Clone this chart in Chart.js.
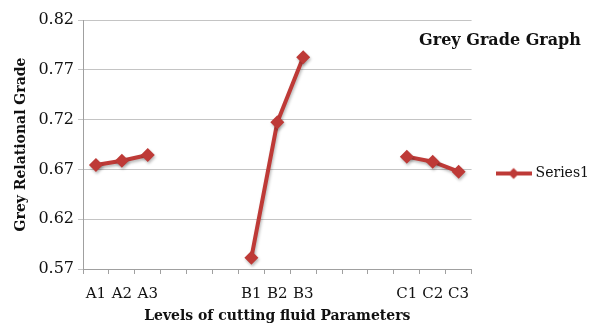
<!DOCTYPE html>
<html><head><meta charset="utf-8">
<script src="https://cdn.jsdelivr.net/npm/chart.js@4.4.0/dist/chart.umd.min.js"></script>
<style>html,body{margin:0;padding:0;background:#fff;}</style>
</head><body>
<canvas id="c" width="600" height="327"></canvas>
<script>
const categories = ['A1','A2','A3','','','','B1','B2','B3','','','','C1','C2','C3'];
const series1 = [0.6744,0.6787,0.6845,null,null,null,0.5814,0.7173,0.7825,null,null,null,0.6828,0.6777,0.6677];
const yTicks = [0.57,0.62,0.67,0.72,0.77,0.82];
const seriesName = 'Series1';
const chartTitle = 'Grey Grade Graph';
const xTitle = 'Levels of cutting fluid Parameters';
const yTitle = 'Grey Relational Grade';

const RED = '#BE3A37';
const SERIF = '"DejaVu Serif", "Liberation Serif", serif';

// legend icon: line with diamond
const legendIcon = document.createElement('canvas');
legendIcon.width = 36; legendIcon.height = 14;
(function(){
  const g = legendIcon.getContext('2d');
  g.strokeStyle = RED; g.lineWidth = 4;
  g.beginPath(); g.moveTo(0,7); g.lineTo(36,7); g.stroke();
  g.fillStyle = RED;
  g.beginPath(); g.moveTo(18,1.5); g.lineTo(23.5,7); g.lineTo(18,12.5); g.lineTo(12.5,7); g.closePath(); g.fill();
})();

const cornerTitle = {
  id: 'cornerTitle',
  afterDraw(chart){
    const ctx = chart.ctx;
    ctx.save();
    ctx.font = 'bold 16px ' + SERIF;
    ctx.fillStyle = '#111';
    ctx.textAlign = 'center';
    ctx.textBaseline = 'middle';
    ctx.fillText(chartTitle, 500, 41);
    ctx.restore();
  }
};
const shadow = {
  id: 'shadow',
  beforeDatasetsDraw(chart){
    const ctx = chart.ctx; ctx.save();
    ctx.shadowColor = 'rgba(0,0,0,0.28)'; ctx.shadowBlur = 3; ctx.shadowOffsetX = 1; ctx.shadowOffsetY = 2;
  },
  afterDatasetsDraw(chart){ chart.ctx.restore(); }
};

new Chart(document.getElementById('c'), {
  type: 'line',
  data: {
    labels: categories,
    datasets: [{
      label: seriesName,
      data: series1,
      borderColor: RED,
      backgroundColor: RED,
      borderWidth: 4,
      pointStyle: 'rectRot',
      pointRadius: 7,
      pointBorderWidth: 0,
      pointBackgroundColor: RED,
      spanGaps: false,
      tension: 0
    }]
  },
  plugins: [shadow, cornerTitle],
  options: {
    responsive: false,
    animation: false,
    layout: { padding: { top: 20, right: 1, left: 0, bottom: 0 } },
    plugins: {
      tooltip: { enabled: false },
      legend: {
        position: 'right',
        align: 'center',
        labels: {
          usePointStyle: true,
          pointStyleWidth: 30,
          padding: 27,
          color: '#111',
          font: { family: SERIF, size: 14 },
          generateLabels(chart){
            return [{ text: seriesName, pointStyle: legendIcon, fillStyle: RED, strokeStyle: RED, lineWidth: 0, hidden: false, datasetIndex: 0, fontColor: '#111' }];
          }
        }
      }
    },
    scales: {
      x: {
        type: 'category',
        offset: true,
        afterFit(s){ s.height = 58; },
        grid: { drawOnChartArea: false, offset: true, tickLength: 5, color: '#A0A0A0' },
        border: { display: true, color: '#A0A0A0' },
        ticks: { color: '#111', font: { family: SERIF, size: 15 }, padding: 11, autoSkip: false, maxRotation: 0 },
        title: { display: true, text: xTitle, color: '#111', font: { family: SERIF, size: 14, weight: 'bold' }, padding: { top: 0, bottom: 2 } }
      },
      y: {
        min: 0.57, max: 0.82,
        afterFit(s){ s.width = 83; },
        afterBuildTicks(s){ s.ticks = yTicks.map(v => ({ value: v })); },
        grid: { color: '#C4C4C4', tickLength: 5, drawTicks: true },
        border: { display: true, color: '#A0A0A0' },
        ticks: { color: '#111', font: { family: SERIF, size: 16 }, padding: 4, callback: v => Number(v).toFixed(2) },
        title: { display: true, text: yTitle, color: '#111', font: { family: SERIF, size: 14, weight: 'bold' }, padding: { top: 13, bottom: 0 } }
      }
    }
  }
});
</script>
</body></html>
